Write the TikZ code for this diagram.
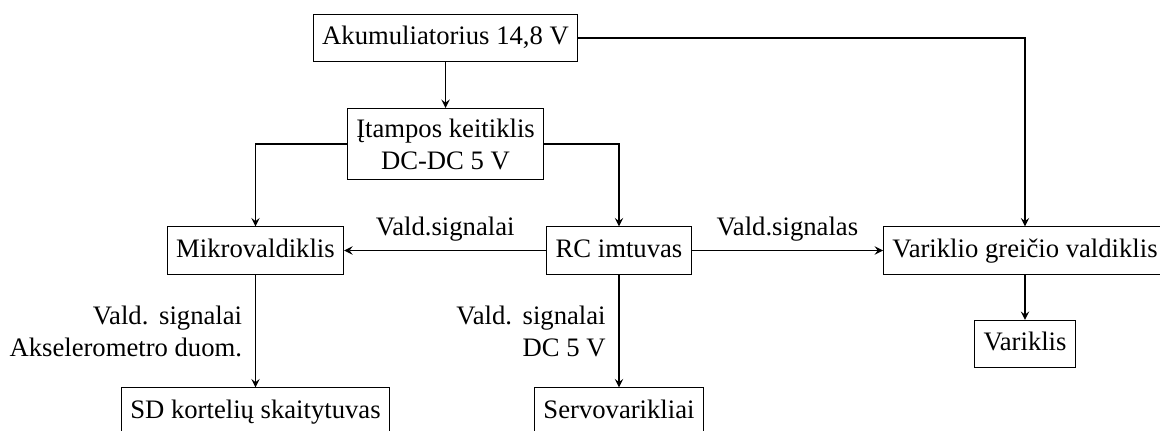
\documentclass[tikz,border=0pt]{standalone}
\usepackage{fontspec}
\setmainfont{Liberation Serif}
\begin{document}
\begin{tikzpicture}[x=0.375pt,y=-0.375pt,
  box/.style={draw,line width=0.4pt,text height=8pt,text depth=3pt,inner sep=3.333pt},
  twobox/.style={draw,line width=0.4pt,align=center,minimum height=26.6pt,inner sep=3.333pt},
  arr/.style={-stealth,line width=0.4pt},
  lbl/.style={align=right,inner sep=3.333pt}]
\useasboundingbox (0,0) rectangle (1160,430);
\node[box] (akum) at (445.5,38) {Akumuliatorius 14,8 V};
\node[twobox] (itamp) at (445.5,144) {Įtampos keitiklis\\DC-DC 5 V};
\node[box] (mikro) at (255.5,250.5) {Mikrovaldiklis};
\node[box] (rc) at (619,250.5) {RC imtuvas};
\node[box] (vgv) at (1025,250.5) {Variklio greičio valdiklis};
\node[box] (variklis) at (1025,344) {Variklis};
\node[box] (sd) at (255.5,411.5) {SD kortelių skaitytuvas};
\node[box] (servo) at (619,411.5) {Servovarikliai};
\draw[arr] (akum.south) -- (itamp.north);
\draw[arr] (akum.east) -| (vgv.north);
\draw[arr] (itamp.west) -| (mikro.north);
\draw[arr] (itamp.east) -| (rc.north);
\draw[arr] (rc.west) -- node[above] (l1) {Vald.signalai} (mikro.east);
\draw[arr] (rc.east) -- node[above] (l2) {Vald.signalas} (vgv.west);
\draw[arr] (mikro.south) -- node[lbl,left=1.5pt] (l3) {Vald.\hspace{0.4em}signalai\\Akselerometro duom.} (sd.north);
\draw[arr] (rc.south) -- node[lbl,left=1.5pt] (l4) {Vald.\hspace{0.4em}signalai\\DC 5 V} (servo.north);
\draw[arr] (vgv.south) -- (variklis.north);
\end{tikzpicture}
\end{document}
